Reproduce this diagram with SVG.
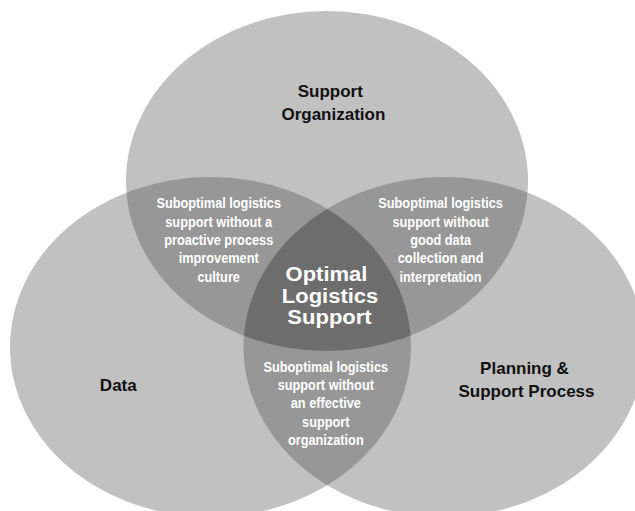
<svg xmlns="http://www.w3.org/2000/svg" width="635" height="511" viewBox="0 0 635 511">
  <style>
    .single { fill: #c1c1c1; }
    .double { fill: #979797; }
    .triple { fill: #6d6d6d; }
    .lbl { font-family: "Liberation Sans", Arial, sans-serif; font-weight: bold; font-size: 17px; fill: #111111; text-anchor: middle; }
    .mid { font-family: "Liberation Sans", Arial, sans-serif; font-weight: bold; font-size: 21px; fill: #ffffff; text-anchor: middle; }
    .sub { font-family: "Liberation Sans", Arial, sans-serif; font-weight: bold; font-size: 15px; fill: #ffffff; text-anchor: middle; }
  </style>
  <defs>
    <ellipse id="eTop" cx="327" cy="181" rx="201" ry="170"/>
    <ellipse id="eLeft" cx="210.5" cy="347" rx="200.5" ry="170"/>
    <ellipse id="eRight" cx="444" cy="347" rx="200.5" ry="170"/>
    <clipPath id="clipTop"><use href="#eTop"/></clipPath>
    <clipPath id="clipLeft"><use href="#eLeft"/></clipPath>
    <clipPath id="clipRight"><use href="#eRight"/></clipPath>
  </defs>
  <rect width="635" height="511" fill="#ffffff"/>

  <g id="support-organization">
    <use href="#eTop" class="single"/>
  </g>
  <g id="data">
    <use href="#eLeft" class="single"/>
  </g>
  <g id="planning-support-process">
    <use href="#eRight" class="single"/>
  </g>

  <g id="overlap-top-left">
    <use href="#eTop" class="double" clip-path="url(#clipLeft)"/>
  </g>
  <g id="overlap-top-right">
    <use href="#eTop" class="double" clip-path="url(#clipRight)"/>
  </g>
  <g id="overlap-left-right">
    <use href="#eLeft" class="double" clip-path="url(#clipRight)"/>
  </g>
  <g id="optimal-logistics-support">
    <g clip-path="url(#clipLeft)">
      <use href="#eTop" class="triple" clip-path="url(#clipRight)"/>
    </g>
  </g>

  <g id="connectors"/>

  <g id="labels">
    <text class="lbl" x="330.3" y="96.7">Support</text>
    <text class="lbl" x="333.4" y="119.7">Organization</text>
    <text class="lbl" x="118.3" y="391">Data</text>
    <text class="lbl" x="524.5" y="374.3">Planning &amp;</text>
    <text class="lbl" x="526.5" y="396.7">Support Process</text>

    <g transform="translate(329,0) scale(1.048,1)">
      <text class="mid" x="-2.4" y="280.8">Optimal</text>
      <text class="mid" x="1" y="302.6">Logistics</text>
      <text class="mid" x="0.5" y="324.2">Support</text>
    </g>

    <g transform="translate(218.7,0) scale(0.85,1)">
      <text class="sub" x="0" y="208.5">Suboptimal logistics</text>
      <text class="sub" x="0" y="226.8">support without a</text>
      <text class="sub" x="0" y="245.1">proactive process</text>
      <text class="sub" x="0" y="263.4">improvement</text>
      <text class="sub" x="0" y="281.7">culture</text>
    </g>
    <g transform="translate(440.6,0) scale(0.85,1)">
      <text class="sub" x="0" y="208.5">Suboptimal logistics</text>
      <text class="sub" x="0" y="226.8">support without</text>
      <text class="sub" x="0" y="245.1">good data</text>
      <text class="sub" x="0" y="263.4">collection and</text>
      <text class="sub" x="0" y="281.7">interpretation</text>
    </g>
    <g transform="translate(325.8,0) scale(0.85,1)">
      <text class="sub" x="0" y="371.7">Suboptimal logistics</text>
      <text class="sub" x="0" y="390">support without</text>
      <text class="sub" x="0" y="408.3">an effective</text>
      <text class="sub" x="0" y="426.6">support</text>
      <text class="sub" x="0" y="444.9">organization</text>
    </g>
  </g>
</svg>
